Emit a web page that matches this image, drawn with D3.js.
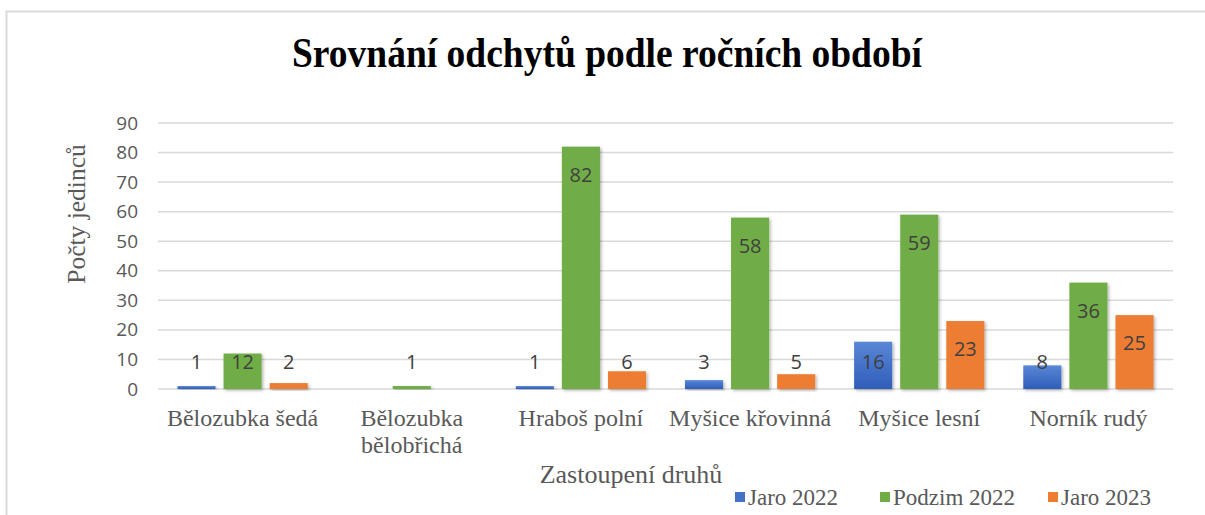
<!DOCTYPE html>
<html>
<head>
<meta charset="utf-8">
<script src="https://cdn.jsdelivr.net/npm/d3@7"></script>
<style>
  body { margin: 0; background: #fff; }
  svg { display: block; }
</style>
</head>
<body>
<div id="chart"></div>
<script>
const categories = [
    ["Bělozubka šedá"],
    ["Bělozubka", "bělobřichá"],
    ["Hraboš polní"],
    ["Myšice křovinná"],
    ["Myšice lesní"],
    ["Norník rudý"]
];
const seriesNames = ["Jaro 2022", "Podzim 2022", "Jaro 2023"];
const jaro2022 = [1, null, 1, 3, 16, 8];
const podzim2022 = [12, 1, 82, 58, 59, 36];
const jaro2023 = [2, null, 6, 5, 23, 25];
const yTicks = [0, 10, 20, 30, 40, 50, 60, 70, 80, 90];

const seriesValues = [jaro2022, podzim2022, jaro2023];
const colors = ["url(#blueGrad)", "#70AD47", "#ED7D31"];
const legendColors = ["#4472C4", "#70AD47", "#ED7D31"];

const width = 1205;
const height = 515;
const margin = { top: 123, right: 32, bottom: 126, left: 158 };
const serif = "'Liberation Serif', 'Times New Roman', serif";

const svg = d3.select("#chart")
    .append("svg")
    .attr("width", width)
    .attr("height", height);

const defs = svg.append("defs");
const grad = defs.append("linearGradient")
    .attr("id", "blueGrad")
    .attr("x1", 0).attr("y1", 0).attr("x2", 0).attr("y2", 1);
grad.append("stop").attr("offset", "0%").attr("stop-color", "#5A87D6");
grad.append("stop").attr("offset", "100%").attr("stop-color", "#2E5DBA");

defs.append("filter")
    .attr("id", "shadow")
    .attr("x", "-20%").attr("y", "-20%").attr("width", "140%").attr("height", "140%")
    .append("feDropShadow")
    .attr("dx", 1.5).attr("dy", 1.5)
    .attr("stdDeviation", 1.5)
    .attr("flood-color", "#000")
    .attr("flood-opacity", 0.3);

// chart border
svg.append("rect")
    .attr("x", 6.5)
    .attr("y", 11.5)
    .attr("width", width + 10)
    .attr("height", height + 10)
    .attr("fill", "none")
    .attr("stroke", "#d9d9d9")
    .attr("stroke-width", 2);

const x0 = d3.scaleBand()
    .domain(d3.range(categories.length))
    .range([margin.left, width - margin.right])
    .paddingInner(0.23)
    .paddingOuter(0.115);

const x1 = d3.scaleBand()
    .domain(d3.range(seriesNames.length))
    .range([0, x0.bandwidth()])
    .paddingInner(0.174);

const y = d3.scaleLinear()
    .domain([0, 90])
    .range([height - margin.bottom, margin.top]);

// gridlines
svg.append("g")
    .selectAll("line")
    .data(yTicks)
    .enter().append("line")
    .attr("x1", margin.left)
    .attr("x2", width - margin.right)
    .attr("y1", d => y(d))
    .attr("y2", d => y(d))
    .attr("stroke", "#d9d9d9")
    .attr("stroke-width", 1.5);

// y axis tick labels
const yAxis = d3.axisLeft(y).tickValues(yTicks).tickSize(0).tickPadding(0);
const yAxisGroup = svg.append("g")
    .attr("transform", `translate(${margin.left - 20},0)`)
    .call(yAxis);
yAxisGroup.select(".domain").remove();
yAxisGroup.selectAll("text")
    .attr("font-family", "'Open Sans', sans-serif")
    .attr("font-size", "19px")
    .attr("fill", "#595959");

// bars
const groups = svg.append("g")
    .selectAll("g")
    .data(seriesValues)
    .enter().append("g")
    .attr("fill", (d, i) => colors[i]);

groups.each(function(values, si) {
    const g = d3.select(this);
    const items = values.map((v, ci) => ({ v, ci })).filter(d => d.v !== null);
    g.selectAll("rect")
        .data(items)
        .enter().append("rect")
        .attr("x", d => x0(d.ci) + x1(si))
        .attr("y", d => y(d.v))
        .attr("width", x1.bandwidth())
        .attr("height", d => y(0) - y(d.v))
        .attr("filter", "url(#shadow)");

    // labels sit inside the top, but never lower than near the base
    g.selectAll("text")
        .data(items)
        .enter().append("text")
        .attr("x", d => x0(d.ci) + x1(si) + x1.bandwidth() / 2)
        .attr("y", d => Math.min(y(d.v) + 28, y(0) - 27))
        .attr("dy", "0.36em")
        .attr("text-anchor", "middle")
        .attr("font-family", "'Open Sans', sans-serif")
        .attr("font-size", "20px")
        .attr("fill", "#404040")
        .text(d => d.v);
});

// category labels
const catLabels = svg.append("g")
    .selectAll("text")
    .data(categories)
    .enter().append("text")
    .attr("x", (d, i) => x0(i) + x0.bandwidth() / 2)
    .attr("y", 426)
    .attr("text-anchor", "middle")
    .attr("font-family", serif)
    .attr("font-size", "24px")
    .attr("fill", "#595959");

catLabels.selectAll("tspan")
    .data(d => d)
    .enter().append("tspan")
    .attr("x", function() { return d3.select(this.parentNode).attr("x"); })
    .attr("dy", (d, i) => i === 0 ? 0 : 27)
    .text(d => d);

// axis titles
svg.append("text")
    .attr("x", 631)
    .attr("y", 483)
    .attr("text-anchor", "middle")
    .attr("font-family", serif)
    .attr("font-size", "26px")
    .attr("fill", "#595959")
    .text("Zastoupení druhů");

svg.append("text")
    .attr("transform", "translate(85,214) rotate(-90)")
    .attr("text-anchor", "middle")
    .attr("font-family", serif)
    .attr("font-size", "25.5px")
    .attr("fill", "#595959")
    .text("Počty jedinců");

// title
svg.append("text")
    .attr("x", 607)
    .attr("y", 67)
    .attr("text-anchor", "middle")
    .attr("font-family", serif)
    .attr("font-weight", "bold")
    .attr("font-size", "42px")
    .attr("textLength", 630)
    .attr("lengthAdjust", "spacingAndGlyphs")
    .attr("fill", "#000")
    .text("Srovnání odchytů podle ročních období");

// legend
const legendX = [735, 880, 1048];
const legend = svg.append("g");
seriesNames.forEach((name, i) => {
    const row = legend.append("g")
        .attr("transform", `translate(${legendX[i]},497)`);
    row.append("rect")
        .attr("x", 0)
        .attr("y", -5)
        .attr("width", 10)
        .attr("height", 10)
        .attr("fill", legendColors[i]);
    row.append("text")
        .attr("x", 13)
        .attr("y", 0)
        .attr("dy", "0.35em")
        .attr("font-family", serif)
        .attr("font-size", "23px")
        .attr("fill", "#595959")
        .text(name);
});
</script>
</body>
</html>
